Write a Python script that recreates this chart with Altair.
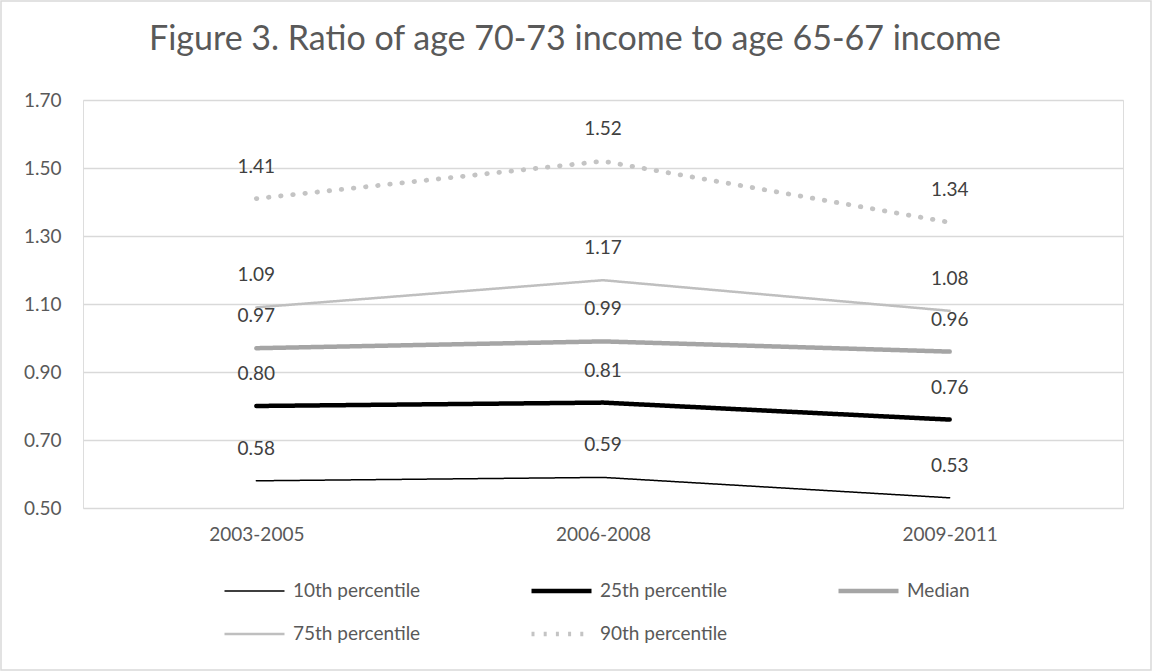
import altair as alt
import pandas as pd

periods = ["2003-2005", "2006-2008", "2009-2011"]
series_names = ["10th percentile", "25th percentile", "Median", "75th percentile", "90th percentile"]
p10 = [0.58, 0.59, 0.53]
p25 = [0.80, 0.81, 0.76]
median = [0.97, 0.99, 0.96]
p75 = [1.09, 1.17, 1.08]
p90 = [1.41, 1.52, 1.34]
y_ticks = [0.5, 0.7, 0.9, 1.1, 1.3, 1.5, 1.7]

colors = ["#000000", "#000000", "#a5a5a5", "#bfbfbf", "#c4c4c4"]
widths = [1.5, 4.5, 4.5, 2.5, 4.5]
dashes = [[1, 0], [1, 0], [1, 0], [1, 0], [3, 9.2]]

rows = []
for name, vals in zip(series_names, [p10, p25, median, p75, p90]):
    for per, v in zip(periods, vals):
        rows.append({"period": per, "series": name, "value": v})
df = pd.DataFrame(rows)
dotted_name = series_names[4]
df_solid = df[df["series"] != dotted_name]
df_dot = df[df["series"] == dotted_name]

FONT = "Lato"
W, H = 1040, 408

x_enc = alt.X("period:N", sort=periods,
              scale=alt.Scale(type="point", padding=0.5),
              axis=alt.Axis(title=None, labelAngle=0, domain=False, ticks=False,
                            labelPadding=17, labelFontSize=19, labelFont=FONT,
                            labelColor="#595959", grid=False))
y_enc = alt.Y("value:Q", scale=alt.Scale(domain=[0.5, 1.7], nice=False, zero=False),
              axis=alt.Axis(title=None, values=y_ticks, format=".2f", domain=False,
                            ticks=False, labelPadding=22, labelFontSize=19,
                            labelFont=FONT, labelColor="#595959", grid=True,
                            gridColor="#d9d9d9", gridWidth=1.3))

legend = alt.Legend(orient="none", legendX=139, legendY=479, columns=3,
                    direction="horizontal",
                    columnPadding=108, rowPadding=19, symbolType="stroke",
                    symbolSize=3600, clipHeight=24, labelOffset=6,
                    labelFontSize=19, labelFont=FONT, labelColor="#595959",
                    title=None, padding=0, labelLimit=400)

lines = alt.Chart(df_solid).mark_line(strokeCap="round").encode(
    x=x_enc, y=y_enc,
    color=alt.Color("series:N", scale=alt.Scale(domain=series_names, range=colors), legend=legend),
    strokeWidth=alt.StrokeWidth("series:N", scale=alt.Scale(type="ordinal", domain=series_names, range=widths), legend=legend),
    strokeDash=alt.StrokeDash("series:N", scale=alt.Scale(type="ordinal", domain=series_names, range=dashes), legend=legend),
)

dotted = alt.Chart(df_dot).mark_line(strokeCap="round", strokeDash=[0.5, 11.7],
                                     strokeWidth=4.8, color=colors[4]).encode(
    x=alt.X("period:N", sort=periods), y="value:Q",
)

labels = alt.Chart(df).mark_text(dy=-32, fontSize=19, font=FONT, color="#404040").encode(
    x=alt.X("period:N", sort=periods), y="value:Q",
    text=alt.Text("value:Q", format=".2f"),
)

border = alt.Chart(pd.DataFrame({"a": [0]})).mark_rect(filled=False, stroke="#d9d9d9", strokeWidth=1.5).encode(
    x=alt.value(-82), x2=alt.value(W + 28), y=alt.value(-99), y2=alt.value(H + 162)
)

chart = alt.layer(border, lines, dotted, labels).properties(
    width=W, height=H,
    title=alt.TitleParams("Figure 3. Ratio of age 70-73 income to age 65-67 income",
                          fontSize=34, font=FONT, color="#595959", fontWeight="normal",
                          anchor="middle", frame="group", dx=-28, dy=31, offset=-53,
                          baseline="alphabetic"),
    padding={"left": 83, "top": 100, "right": 29, "bottom": 163},
    autosize=alt.AutoSizeParams(type="none"),
).configure_view(stroke=None).configure(background="white")

chart.save("out.html", embed_options={"renderer": "svg", "actions": False})
